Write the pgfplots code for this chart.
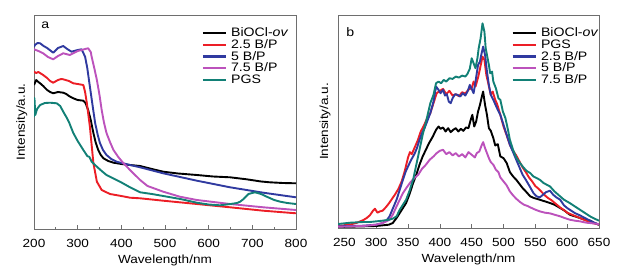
\documentclass[border=0pt]{standalone}
\usepackage{pgfplots}
\pgfplotsset{compat=1.18}
\usepackage{fontspec}
\setmainfont{Liberation Sans}[FakeStretch=1.15]
\definecolor{cred}{RGB}{236,30,38}
\definecolor{cblue}{RGB}{48,58,160}
\definecolor{cmag}{RGB}{188,82,188}
\definecolor{cteal}{RGB}{18,128,118}
\definecolor{cframe}{RGB}{110,110,110}

\pgfplotstableread{
x y
200 144
205 149
210 147
216 145
221 143
230 139
237 137
244 135.7
255 137
267 136.3
274 135
280 133
290 130.7
300 129
313 128.3
318 126
324 119
330 109
336 96
341 87
347 79
353 74
359 70.7
370 68
382 66.3
400 65
420 64
443 63
470 60
496 57.3
530 55.5
573 54
610 52.5
649 51.7
687 49.7
720 47.5
740 46.7
770 46
800 45.7
}\aBlack

\pgfplotstableread{
x y
200 157.3
205 156
210 157
221 154
230 151
237 148
244 146.3
255 149
262 150
267 149.7
280 148
290 145.7
300 145
313 144
317 137
321 126
328 102.3
336 66
344 47.3
355 39
374 35
400 33
420 31.3
443 30.7
496 28.3
573 25
649 21.7
725 18.3
800 15.7
}\aRed

\pgfplotstableread{
x y
200 182
202 184
208 186
214 185.7
222 183
230 181
244 176.3
255 181
267 183
276 180
286 177.3
300 179
309 179.7
317 172.3
322 161
328 142.3
334 124
340 106
346 94
351 86
358 79
366 74
377 70
389 67.3
420 64
443 61.7
496 55.7
573 48.3
649 41.7
725 36.3
800 31.7
}\aBlue

\pgfplotstableread{
x y
200 179.7
210 178
221 175.7
232 172
244 169.7
255 173
267 175.7
282 174
300 178
309 179
317 180
324 180.7
330 177
332 172.3
338 161
344 149
350 134
355 119
360 107
366 96
374 87
382 79
393 72
405 65.7
420 59
443 49
460 43
496 37.3
534 32.3
573 29
649 25
725 21.7
800 19
}\aMag

\pgfplotstableread{
x y
200 112
201 131
203 114
207 120
214 124
225 126
237 126.3
252 125.7
260 123
267 117.3
274 112
280 107
290 96
300 88
313 79
322 73
327 72
332 67.3
344 62.3
355 58
366 54
380 51
397 47.3
420 41.7
443 36.7
470 35
496 33
535 30
573 26.3
600 24.5
626 23.7
650 25
665 26
672 27.3
680 30
691 35
706 36.7
720 35
733 32.3
750 29
764 27.3
780 26
800 25
}\aTeal

\pgfplotstableread{
x y
240 6
250 8
260 11
270 16
280 24
285 30
290 38
295 52
298 58
302 46
306 50
310 52
315 62
320 74
325 88
330 102
335 118
340 140
345 172
350 212
353 228
356 222
360 240
365 262
370 290
375 308
380 330
385 345
390 375
395 405
400 412
405 418
410 402
415 412
420 398
425 402
430 396
435 408
440 404
445 416
450 420
453 440
456 425
460 452
463 478
467 515
470 505
473 460
476 435
480 400
483 410
487 385
490 372
495 340
500 305
505 278
510 250
515 232
520 218
525 200
530 182
535 168
540 152
545 140
550 126
555 118
560 108
565 98
570 90
575 84
580 76
585 68
590 60
595 54
600 46
610 38
620 30
630 22
640 15
650 10
}\bRed

\pgfplotstableread{
x y
240 5
260 6
280 7
300 10
310 15
316 22
321 35
326 58
332 85
337 115
342 145
346 168
350 185
355 205
360 222
364 240
368 265
372 285
376 300
381 325
385 345
390 380
394 425
398 415
401 405
405 415
408 398
411 402
414 380
417 375
420 390
424 402
428 400
432 395
436 405
440 398
444 412
447 430
450 418
453 405
456 440
460 490
463 500
465 520
468 545
471 520
474 470
477 430
480 400
484 385
487 372
491 355
495 340
500 310
505 280
510 250
515 228
520 205
526 178
530 160
535 145
542 122
547 105
552 95
557 92
562 100
567 108
573 112
578 100
583 92
589 85
595 68
600 60
604 55
612 45
620 38
630 28
640 18
650 10
}\bBlue

\pgfplotstableread{
x y
240 12
250 14
260 16
270 17
280 18
290 18
300 20
310 22
320 25
326 28
332 35
337 55
342 70
347 85
352 110
358 145
363 190
368 235
373 280
379 325
385 375
390 400
394 435
398 440
402 435
406 445
410 440
415 450
420 448
425 455
430 452
435 458
440 455
443 462
447 478
450 510
453 495
456 480
459 510
461 540
464 570
467 615
470 590
472 540
474 520
477 490
479 465
482 470
484 440
488 420
492 390
495 385
499 350
503 330
507 295
510 265
515 235
520 212
526 195
530 185
536 172
542 165
547 155
552 150
557 145
563 135
568 130
573 125
580 110
589 95
595 85
604 75
612 65
620 55
628 45
636 35
643 28
650 22
}\bTeal

\pgfplotstableread{
x y
240 4
260 4
280 5
300 6
310 8
320 10
326 15
332 30
337 45
342 60
347 75
352 100
358 135
363 160
368 190
373 215
378 235
383 255
389 275
394 295
398 305
401 298
405 302
409 290
413 300
417 288
421 295
425 300
429 290
433 298
437 292
441 302
445 300
448 322
451 340
454 305
457 320
460 350
463 370
466 395
468 410
471 370
474 340
477 300
480 292
484 270
487 248
491 252
495 215
500 210
505 195
510 168
515 155
520 145
526 130
530 120
535 110
542 95
548 90
557 85
565 80
573 75
580 70
589 60
596 52
604 40
612 35
620 30
628 25
636 22
643 15
650 10
}\bBlack

\pgfplotstableread{
x y
240 4
260 5
280 6
300 10
310 15
316 20
321 25
326 40
332 65
337 85
342 105
348 122
354 138
360 150
366 160
372 178
378 190
384 205
390 215
395 225
400 232
405 235
410 222
415 228
420 218
425 225
430 215
435 222
440 212
445 228
450 220
455 212
458 225
462 230
466 250
468 258
471 240
474 225
477 210
480 198
484 190
488 175
492 168
495 152
500 140
505 128
510 110
515 98
520 88
526 78
532 70
538 66
542 62
550 55
557 50
565 46
573 44
580 40
589 35
596 30
604 25
612 22
620 20
630 16
640 14
650 12
}\bMag

\pgfplotsset{
  myaxis/.style={
    anchor=south west,
    scale only axis,
    font=\fontsize{11.8}{14}\selectfont,
    axis line style={cframe, line width=0.8pt},
    tick style={cframe, line width=0.7pt},
    major tick length=4pt,
    minor tick length=2.5pt,
    tick align=inside,
    xtick pos=bottom,
    ytick=\empty,
    /pgf/number format/assume math mode=true,
    /pgf/number format/1000 sep={},
    xticklabel style={inner sep=0pt, yshift=-9.8pt},
    xlabel={Wavelength/nm},
    ylabel={Intensity/a.u.},
    xlabel style={at={(axis description cs:0.5,0)}, anchor=base, yshift=-34pt, inner sep=0pt},
    every axis plot/.append style={line width=1.9pt, line join=round},
    legend style={draw=none, fill=none, inner sep=0pt, outer sep=0pt,
      font=\fontsize{12.3}{13}\selectfont, row sep=0pt,
      nodes={inner sep=0.35pt, text height=9pt, text depth=2pt, anchor=west}},
    legend cell align=left,
    legend image code/.code={\draw[#1, line width=2.2pt] (0pt,0pt) -- (23pt,0pt); \path (27pt,0pt);},
  }
}

\begin{document}
\begin{tikzpicture}
\path[use as bounding box] (0,0) rectangle (623pt,276pt);
\begin{axis}[myaxis,
  at={(34pt,47pt)}, width=262pt, height=214pt,
  xmin=200, xmax=800, ymin=0, ymax=214,
  xtick={200,300,...,800}, minor x tick num=1,
  ylabel style={at={(axis description cs:-0.0344,0.5)}, anchor=base, inner sep=0pt},
  legend style={at={(rel axis cs:0.640,0.9425)}, anchor=north west},
]
\addplot[black] table {\aBlack};
\addplot[cred] table {\aRed};
\addplot[cblue] table {\aBlue};
\addplot[cmag] table {\aMag};
\addplot[cteal] table {\aTeal};
\legend{BiOCl-\textit{ov}, 2.5 B/P, 5 B/P, 7.5 B/P, PGS}
\node[anchor=base west, inner sep=0pt, font=\fontsize{12.3}{13}\selectfont] at (rel axis cs:0.027,0.935) {a};
\end{axis}

\begin{axis}[myaxis,
  at={(338pt,48pt)}, width=261pt, height=213pt,
  xmin=240, xmax=650, ymin=0, ymax=640,
  xtick={250,300,...,650},
  ylabel style={at={(axis description cs:-0.0383,0.5)}, anchor=base, inner sep=0pt},
  legend style={at={(rel axis cs:0.6653,0.9423)}, anchor=north west},
]
\addplot[black] table {\bBlack};
\addplot[cred] table {\bRed};
\addplot[cblue] table {\bBlue};
\addplot[cmag] table {\bMag};
\addplot[cteal] table {\bTeal};
\legend{BiOCl-\textit{ov}, PGS, 2.5 B/P, 5 B/P, 7.5 B/P}
\node[anchor=base west, inner sep=0pt, font=\fontsize{12.3}{13}\selectfont] at (rel axis cs:0.031,0.897) {b};
\end{axis}
\end{tikzpicture}
\end{document}
